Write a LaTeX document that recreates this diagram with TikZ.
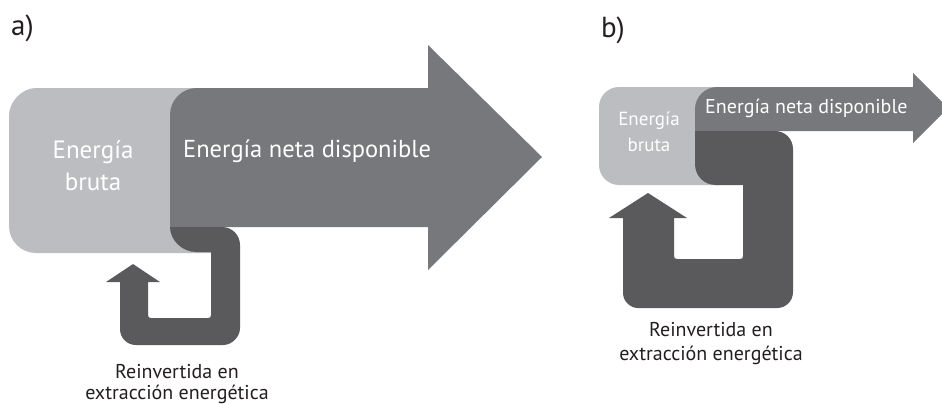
\documentclass[tikz,border=0pt]{standalone}
\usepackage{fontspec}
\setmainfont{PT Sans}
\definecolor{lightc}{HTML}{BCBDC0}
\definecolor{midc}{HTML}{77787B}
\definecolor{darkc}{HTML}{5A5A5D}
\definecolor{txt}{HTML}{231F20}
\begin{document}
\begin{tikzpicture}[x=1pt,y=-1pt,
  wlab/.style={text=white,inner sep=0pt,align=center},
  blab/.style={text=txt,inner sep=0pt,align=center},
  panel/.style={text=txt,inner sep=0pt,font=\fontsize{29}{32}\selectfont}]
\clip (0,0) rectangle (942,404);
\fill[white] (0,0) rectangle (942,404);
% ---------- a) ----------
\node[panel,anchor=base west] (la) at (11,36) {a)};
\fill[lightc] (211,88) -- (36,88) .. controls (21,88) and (9,103) .. (9,115) -- (9,226)
  .. controls (9,241) and (21,253) .. (36,253) -- (211,253) -- cycle;
\fill[midc] (197,88) -- (428,88) -- (428,45) -- (542,157) -- (428,270) -- (428,227) -- (170,227)
  -- (170,115) .. controls (170,100) and (182,88) .. (197,88) -- cycle;
\fill[darkc] (170,227) -- (222,227) .. controls (232,227) and (240,235) .. (240,245) -- (240,328)
  .. controls (240,337) and (232,345) .. (223,345)
  -- (136,345) .. controls (127,345) and (120,338) .. (120,329) -- (120,282) -- (106,282) -- (133,264) -- (160,282) -- (148,282)
  -- (148,315) .. controls (148,317) and (149,318) .. (151,318) -- (208,318) .. controls (210,318) and (211,317) .. (211,315) -- (211,252)
  -- (196,252) .. controls (182,252) and (170,240) .. (170,227) -- cycle;
\node[wlab,anchor=base,font=\fontsize{25}{32}\selectfont] (ebA1) at (93,158) {Energía};
\node[wlab,anchor=base,font=\fontsize{25}{32}\selectfont] (ebA2) at (93,190) {bruta};
\node[wlab,anchor=base west,font=\fontsize{24.5}{30}\selectfont] (enA) at (183,157) {Energía neta disponible};
\node[blab,anchor=base,font=\fontsize{20}{24}\selectfont] (rA1) at (177,378) {Reinvertida en};
\node[blab,anchor=base,font=\fontsize{20}{24}\selectfont] (rA2) at (177,399) {extracción energética};
% ---------- b) ----------
\node[panel,anchor=base west] (lb) at (601,38) {b)};
\fill[lightc] (720,87) -- (619,87) .. controls (608,87) and (599,96) .. (599,107) -- (599,165)
  .. controls (599,176) and (608,185) .. (619,185) -- (720,185) -- cycle;
\fill[midc] (717,87) -- (913,87) -- (913,73) -- (948,108) -- (913,143) -- (913,131) -- (695,131)
  -- (695,109) .. controls (695,97) and (705,87) .. (717,87) -- cycle;
\fill[darkc] (695,131) -- (775,131) .. controls (785,131) and (793,139) .. (793,149) -- (793,292)
  .. controls (793,301) and (786,308) .. (777,308)
  -- (638,308) .. controls (630,308) and (623,301) .. (623,293) -- (623,218) -- (609,218) -- (648,193) -- (687,218) -- (674,218)
  -- (674,256) .. controls (674,258) and (675,259) .. (677,259) -- (740,259) .. controls (742,259) and (743,258) .. (743,256) -- (743,185)
  -- (716,185) .. controls (704,185) and (695,176) .. (695,164) -- cycle;
\node[wlab,anchor=base,font=\fontsize{19}{26}\selectfont] (ebB1) at (649,125) {Energía};
\node[wlab,anchor=base,font=\fontsize{19}{26}\selectfont] (ebB2) at (649,151) {bruta};
\node[wlab,anchor=base west,font=\fontsize{20}{24}\selectfont] (enB) at (705,113) {Energía neta disponible};
\node[blab,anchor=base,font=\fontsize{20}{24}\selectfont] (rB1) at (711,336) {Reinvertida en};
\node[blab,anchor=base,font=\fontsize{20}{24}\selectfont] (rB2) at (711,360) {extracción energética};
\end{tikzpicture}
\end{document}
